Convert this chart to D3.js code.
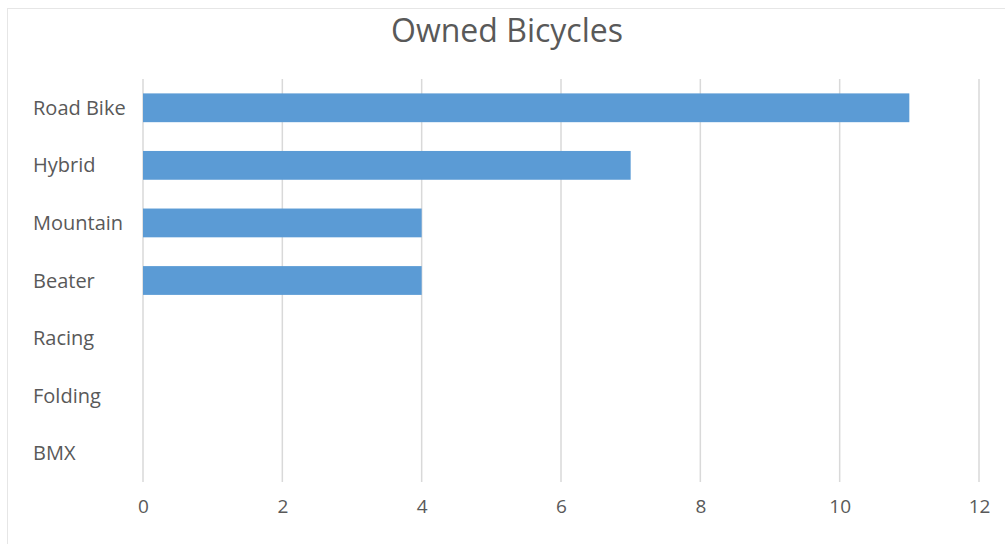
<!DOCTYPE html>
<html>
<head>
<meta charset="utf-8">
<script src="https://cdn.jsdelivr.net/npm/d3@7"></script>
<style>
  body { margin: 0; background: #fff; }
  svg { display: block; font-family: "Open Sans", sans-serif; }
</style>
</head>
<body>
<svg width="1005" height="544"></svg>
<script>
var categories = ["Road Bike", "Hybrid", "Mountain", "Beater", "Racing", "Folding", "BMX"];
var owned = [11, 7, 4, 4, 0, 0, 0];
var xTicks = [0, 2, 4, 6, 8, 10, 12];

var data = categories.map(function(c, i) { return {name: c, value: owned[i]}; });

var svg = d3.select("svg"),
    margin = {top: 79, right: 26, bottom: 62, left: 143},
    width = +svg.attr("width"),
    height = +svg.attr("height");

// chart frame (cut off at right and bottom)
svg.append("rect")
    .attr("x", 7.5).attr("y", 8.5)
    .attr("width", 1010).attr("height", 550)
    .attr("fill", "none")
    .attr("stroke", "#e6e6e6")
    .attr("stroke-width", 1);

var x = d3.scaleLinear()
    .domain([0, 12])
    .range([margin.left, width - margin.right]);

var y = d3.scaleBand()
    .domain(categories)
    .range([margin.top, height - margin.bottom])
    .paddingInner(0.5)
    .paddingOuter(0.25);

// gridlines
svg.append("g")
  .selectAll("line")
  .data(xTicks)
  .enter().append("line")
    .attr("x1", function(d) { return x(d); })
    .attr("x2", function(d) { return x(d); })
    .attr("y1", margin.top)
    .attr("y2", height - margin.bottom)
    .attr("stroke", "#d9d9d9")
    .attr("stroke-width", 1.5);

svg.append("g")
  .selectAll("rect")
  .data(data)
  .enter().append("rect")
    .attr("x", x(0))
    .attr("y", function(d) { return y(d.name); })
    .attr("width", function(d) { return x(d.value) - x(0); })
    .attr("height", y.bandwidth())
    .attr("fill", "#5b9bd5");

var xAxis = svg.append("g")
    .attr("transform", "translate(0," + (height - margin.bottom) + ")")
    .call(d3.axisBottom(x).tickValues(xTicks).tickSize(0).tickPadding(18));
xAxis.select(".domain").remove();
xAxis.selectAll("text")
    .attr("fill", "#595959")
    .style("font-size", "19px")
    .style("font-family", "Open Sans, sans-serif");

// category labels, left aligned like the original
svg.append("g")
  .selectAll("text")
  .data(categories)
  .enter().append("text")
    .attr("x", 33)
    .attr("y", function(d) { return y(d) + y.bandwidth() / 2; })
    .attr("dy", "0.35em")
    .attr("fill", "#595959")
    .style("font-size", "20px")
    .text(function(d) { return d; });

svg.append("text")
    .attr("x", 507)
    .attr("y", 31)
    .attr("dy", "0.35em")
    .attr("text-anchor", "middle")
    .attr("fill", "#595959")
    .style("font-size", "32px")
    .text("Owned Bicycles");
</script>
</body>
</html>
